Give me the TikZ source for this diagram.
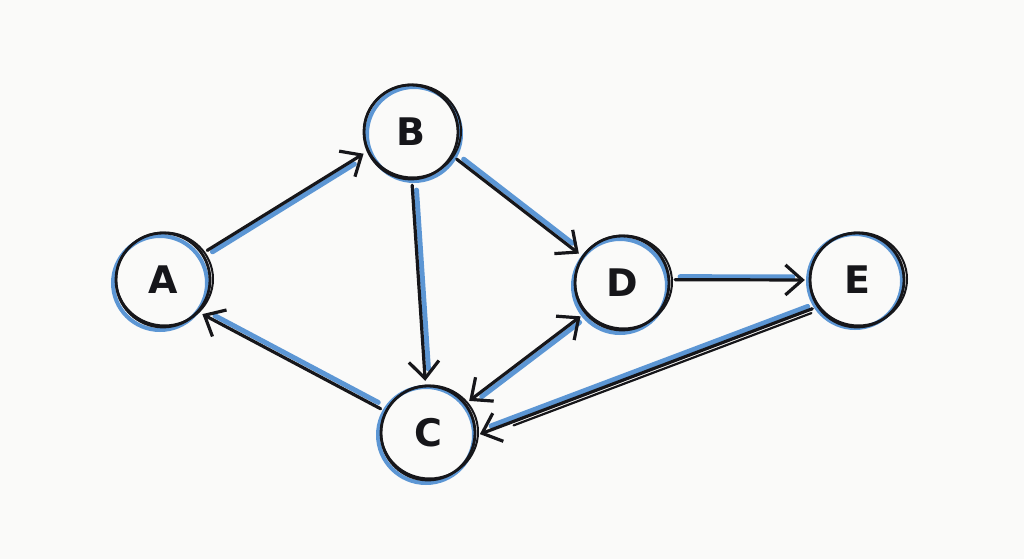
\documentclass[tikz,border=0pt]{standalone}
\usetikzlibrary{arrows.meta}
\usepackage{fontspec}
\setmainfont{DejaVu Sans}
\definecolor{bgc}{RGB}{250,250,249}
\definecolor{sky}{RGB}{92,150,212}
\definecolor{ink}{RGB}{22,22,26}
\begin{document}
\begin{tikzpicture}[x=1pt,y=-1pt,
  vertex/.style={circle,minimum size=96pt,inner sep=0pt,font=\fontsize{38}{38}\selectfont\bfseries,text=ink},
  ring/.style={draw=ink,line width=2.8pt},
  halo/.style={draw=sky,line width=4pt},
  tip/.style={},
  edge/.style={draw=ink,line width=3.2pt,line cap=round,-{Straight Barb[length=17pt,width=30pt,line width=3.2pt]},shorten <=5pt,shorten >=4pt},
  dedge/.style={edge,{Straight Barb[length=17pt,width=30pt,line width=3.2pt]}-{Straight Barb[length=17pt,width=30pt,line width=3.2pt]}},
  shade/.style={draw=sky,line width=5pt,line cap=round,shorten <=10pt,shorten >=16pt}]
\fill[bgc] (0,0) rectangle (1024,559);
\useasboundingbox (0,0) rectangle (1024,559);
% halos (blue shadows of circles)
\draw[halo] (160,283) circle[radius=47];
\draw[halo] (414,134) circle[radius=47];
\draw[halo] (426,435) circle[radius=48];
\draw[halo] (620,286) circle[radius=47];
\draw[halo] (855,281) circle[radius=47];
% nodes
\node[vertex] (A) at (163,280) {A};
\node[vertex] (B) at (411,132) {B};
\node[vertex] (C) at (428,433) {C};
\node[vertex] (D) at (622,283) {D};
\node[vertex] (E) at (857,280) {E};
% sketchy rings
\foreach \n/\x/\y in {A/163/280,B/411/132,C/428/433,D/622/283,E/857/280}{
  \draw[ring] (\x,\y) circle[radius=47];
  \draw[ring,line width=2pt] (\x+1.5,\y-1) ellipse[x radius=48.5,y radius=46.5];
}
% blue shadows of connectors
\draw[shade,transform canvas={xshift=1pt,yshift=-4pt}] (A.34) -- (B.204);
\draw[shade,transform canvas={xshift=4pt}] (B.-89) -- (C.93);
\draw[shade,transform canvas={xshift=3pt,yshift=3pt}] (B.-30) -- (D.146);
\draw[shade,transform canvas={yshift=3pt}] (D.4) -- (E.180);
\draw[shade,transform canvas={xshift=2pt,yshift=4pt}] (C.153) -- (A.-42);
\draw[shade,transform canvas={xshift=3pt,yshift=-3pt}] (D.219) -- (C.38);
\draw[shade,transform canvas={yshift=4pt}] (E.214) -- (C.-3);
% connectors
\draw[edge] (A.34) -- (B.204);
\draw[edge] (B.-89) -- (C.93);
\draw[edge] (B.-30) -- (D.146);
\draw[edge] (D.4) -- (E.180);
\draw[edge] (C.153) -- (A.-42);
\draw[dedge] (D.219) -- (C.38);
\draw[edge] (E.214) -- (C.-3);
\draw[draw=ink,line width=2.2pt,line cap=round,shorten <=6pt,shorten >=40pt,transform canvas={yshift=-4pt}] (E.214) -- (C.-3);
\end{tikzpicture}
\end{document}
